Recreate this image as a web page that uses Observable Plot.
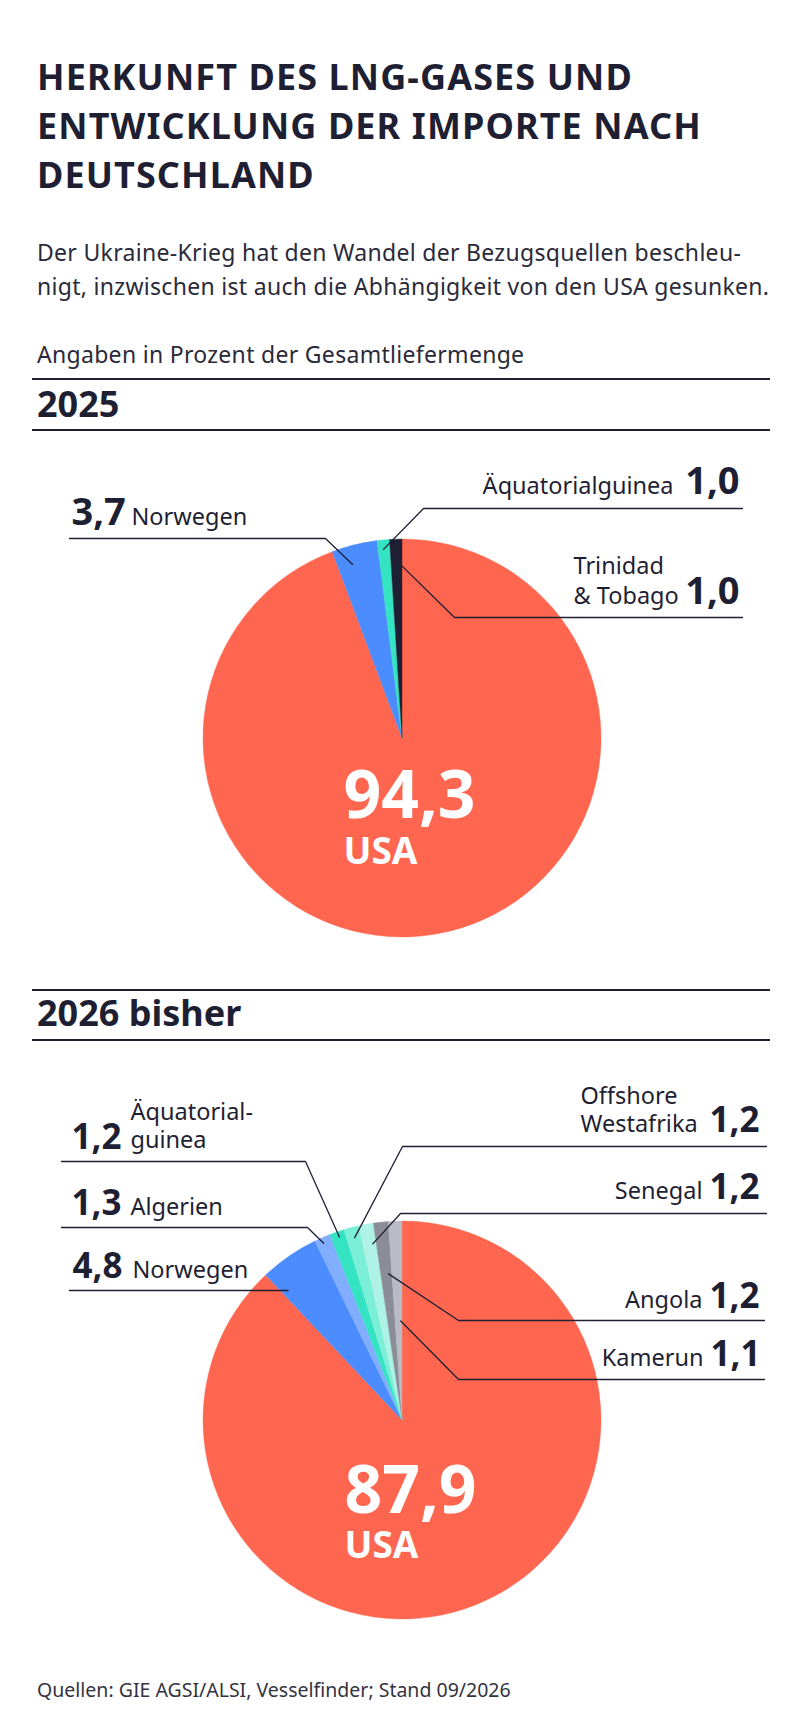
<!DOCTYPE html>
<html lang="de">
<head>
<meta charset="utf-8">
<script src="https://cdn.jsdelivr.net/npm/d3@7"></script>
<script src="https://cdn.jsdelivr.net/npm/@observablehq/plot@0.6"></script>
<style>
  html, body { margin: 0; padding: 0; background: #ffffff; }
  #page { position: relative; width: 800px; height: 1735px; font-family: "Noto Sans", sans-serif; color: #1f1f33; overflow: hidden; }
  .abs { position: absolute; left: 37px; white-space: nowrap; }
  .title { top: 51.5px; font-size: 36px; line-height: 49px; font-weight: 700; letter-spacing: 1.1px; }
  .sub { top: 235.1px; font-size: 23px; line-height: 34px; color: #2a2a3a; letter-spacing: 0.3px; }
  .note { top: 337.1px; font-size: 23px; line-height: 34px; color: #2a2a3a; letter-spacing: 0.3px; }
  .sec { font-size: 36px; line-height: 40px; font-weight: 700; }
  .rule { position: absolute; left: 32px; width: 738px; height: 2px; background: #1f1f33; }
  .foot { top: 1678.4px; font-size: 19.5px; line-height: 24px; color: #333340; }
  .chart { position: absolute; left: 0; }
</style>
</head>
<body>
<div id="page">
  <div class="abs title">HERKUNFT DES LNG-GASES UND<br>ENTWICKLUNG DER IMPORTE NACH<br>DEUTSCHLAND</div>
  <div class="abs sub">Der Ukraine-Krieg hat den Wandel der Bezugsquellen beschleu-<br>nigt, inzwischen ist auch die Abhängigkeit von den USA gesunken.</div>
  <div class="abs note">Angaben in Prozent der Gesamtliefermenge</div>
  <div class="rule" style="top:378px"></div>
  <div class="abs sec" style="top:384px">2025</div>
  <div class="rule" style="top:429px"></div>
  <div class="rule" style="top:989px"></div>
  <div class="abs sec" style="top:993px">2026 bisher</div>
  <div class="rule" style="top:1039px"></div>
  <div class="abs foot">Quellen: GIE AGSI/ALSI, Vesselfinder; Stand 09/2026</div>
  <div id="c2025" class="chart"></div>
  <div id="c2026" class="chart"></div>
</div>
<script>
// ---------- DATA ----------
const countries2025 = ["USA", "Norwegen", "Äquatorialguinea", "Trinidad & Tobago"];
const values2025 = [94.3, 3.7, 1.0, 1.0];
const labelLines2025 = ["USA", "Norwegen", "Äquatorialguinea", "Trinidad\n& Tobago"];
const colors2025 = ["#ff664f", "#4b8dff", "#34e3c2", "#1f1f33"];

const countries2026 = ["USA", "Norwegen", "Algerien", "Äquatorialguinea", "Offshore Westafrika", "Senegal", "Angola", "Kamerun"];
const values2026 = [87.9, 4.8, 1.3, 1.2, 1.2, 1.2, 1.2, 1.1];
const labelLines2026 = ["USA", "Norwegen", "Algerien", "Äquatorial-\nguinea", "Offshore\nWestafrika", "Senegal", "Angola", "Kamerun"];
const colors2026 = ["#ff664f", "#4b8dff", "#82aeff", "#34e3c2", "#7aeed6", "#aef2e5", "#8b8d96", "#b9bac4"];

// ---------- LAYOUT (page pixel coordinates) ----------
const ink = "#1f1f33";
const layout2025 = {
  top: 440, height: 530, cx: 402, cy: 738, r: 199,
  nameSize: 23.5, valueSize: 38, lineHeight: 30,
  big: {x: 343, valueY: 817, nameY: 863, valueSize: 66, nameSize: 37},
  labels: {
    "Norwegen":          {name: {x: 131, y: 524, anchor: "start"}, value: {x: 71, y: 524, anchor: "start"}, line: [[325, 538], [69, 538]], t: 0.34, rf: 0.91},
    "Äquatorialguinea":  {name: {x: 673, y: 493, anchor: "end"}, value: {x: 739, y: 493, anchor: "end"}, line: [[423, 508], [742, 508]], t: 0.41, rf: 0.955},
    "Trinidad & Tobago": {name: {x: 573, y: 603, anchor: "start"}, value: {x: 739, y: 603, anchor: "end"}, line: [[454, 617], [742, 617]], t: 0.9, rf: 0.87}
  }
};
const layout2026 = {
  top: 1045, height: 625, cx: 402, cy: 1420, r: 199,
  nameSize: 23.5, valueSize: 35, lineHeight: 28,
  big: {x: 344, valueY: 1512, nameY: 1557, valueSize: 66, nameSize: 37},
  labels: {
    "Äquatorialguinea":    {name: {x: 130, y: 1147, anchor: "start"}, value: {x: 71, y: 1148, anchor: "start"}, line: [[305, 1161], [61, 1161]], t: 0.53, rf: 0.975},
    "Algerien":            {name: {x: 130, y: 1214, anchor: "start"}, value: {x: 71, y: 1214, anchor: "start"}, line: [[307, 1227], [61, 1227]], t: 0.42, rf: 0.975},
    "Norwegen":            {name: {x: 132, y: 1277, anchor: "start"}, value: {x: 72, y: 1277, anchor: "start"}, line: [[69, null]], t: 0.11, rf: 0.87},
    "Offshore Westafrika": {name: {x: 580, y: 1131, anchor: "start"}, value: {x: 759, y: 1131, anchor: "end"}, line: [[402, 1146], [766, 1146]], t: 0.53, rf: 0.95},
    "Senegal":             {name: {x: 702, y: 1198, anchor: "end"}, value: {x: 759, y: 1198, anchor: "end"}, line: [[400, 1213], [766, 1213]], t: 0.71, rf: 0.9},
    "Angola":              {name: {x: 702, y: 1307, anchor: "end"}, value: {x: 759, y: 1307, anchor: "end"}, line: [[458, 1320], [764, 1320]], t: 0.66, rf: 0.74},
    "Kamerun":             {name: {x: 703, y: 1365, anchor: "end"}, value: {x: 760, y: 1365, anchor: "end"}, line: [[458, 1379], [764, 1379]], t: 0.75, rf: 0.5}
  }
};

const fmt = v => v.toFixed(1).replace(".", ",");
const FONT = "Noto Sans";

function buildChart(countries, values, lines, colors, L) {
  const data = countries.map((c, i) => ({country: c, value: values[i], lines: lines[i], color: colors[i]}));
  const arcs = d3.pie().sort(null).value(d => d.value).startAngle(0).endAngle(2 * Math.PI)(data);

  // pie slices via custom render mark, positioned through the plot's scales
  const pieMark = (index, scales) => {
    const cx = scales.x(L.cx), cy = scales.y(L.cy);
    const R = scales.x(L.cx + L.r) - cx;
    const g = d3.create("svg:g").attr("transform", `translate(${cx},${cy})`);
    g.selectAll("path").data(arcs).join("path")
      .attr("d", d3.arc().innerRadius(0).outerRadius(R))
      .attr("fill", d => d.data.color)
      .attr("stroke", d => d.data.color)
      .attr("stroke-width", 0.4);
    return g.node();
  };

  // leader lines: from a point inside the slice to the elbow and end
  const leader = [];
  const textMarks = [];
  arcs.forEach(a => {
    const c = a.data.country;
    const lab = L.labels[c];
    if (!lab) return;
    const ang = a.startAngle + lab.t * (a.endAngle - a.startAngle);
    const px = L.cx + lab.rf * L.r * Math.sin(ang);
    const py = L.cy - lab.rf * L.r * Math.cos(ang);
    leader.push({id: c, x: px, y: py});
    lab.line.forEach(([x, y]) => leader.push({id: c, x, y: y == null ? py : y}));
    textMarks.push(Plot.text([{x: lab.name.x, y: lab.name.y, t: a.data.lines}], {
      x: "x", y: "y", text: "t", textAnchor: lab.name.anchor, lineAnchor: "bottom",
      lineHeight: L.lineHeight / L.nameSize, fontSize: L.nameSize, fontFamily: FONT, fill: ink
    }));
    textMarks.push(Plot.text([{x: lab.value.x, y: lab.value.y, t: fmt(a.data.value)}], {
      x: "x", y: "y", text: "t", textAnchor: lab.value.anchor, lineAnchor: "bottom",
      fontSize: L.valueSize, fontWeight: 700, fontFamily: FONT, fill: ink
    }));
  });

  const main = data[0];
  const bigMarks = [
    Plot.text([{x: L.big.x, y: L.big.valueY, t: fmt(main.value)}], {
      x: "x", y: "y", text: "t", textAnchor: "start", lineAnchor: "bottom",
      fontSize: L.big.valueSize, fontWeight: 700, fontFamily: FONT, fill: "#ffffff"
    }),
    Plot.text([{x: L.big.x, y: L.big.nameY, t: main.lines}], {
      x: "x", y: "y", text: "t", textAnchor: "start", lineAnchor: "bottom",
      fontSize: L.big.nameSize, fontWeight: 700, fontFamily: FONT, fill: "#ffffff"
    })
  ];

  return Plot.plot({
    width: 800,
    height: L.height,
    margin: 0,
    style: {background: "transparent", overflow: "visible", fontFamily: FONT},
    x: {type: "linear", domain: [0, 800], range: [0, 800], axis: null},
    y: {type: "linear", domain: [L.top, L.top + L.height], range: [0, L.height], axis: null},
    marks: [
      pieMark,
      Plot.line(leader, {x: "x", y: "y", z: "id", stroke: ink, strokeWidth: 1.3, strokeLinejoin: "miter"}),
      ...textMarks,
      ...bigMarks
    ]
  });
}

function mount(id, node, L) {
  const el = document.getElementById(id);
  el.style.top = L.top + "px";
  el.appendChild(node);
}

mount("c2025", buildChart(countries2025, values2025, labelLines2025, colors2025, layout2025), layout2025);
mount("c2026", buildChart(countries2026, values2026, labelLines2026, colors2026, layout2026), layout2026);
</script>
</body>
</html>
